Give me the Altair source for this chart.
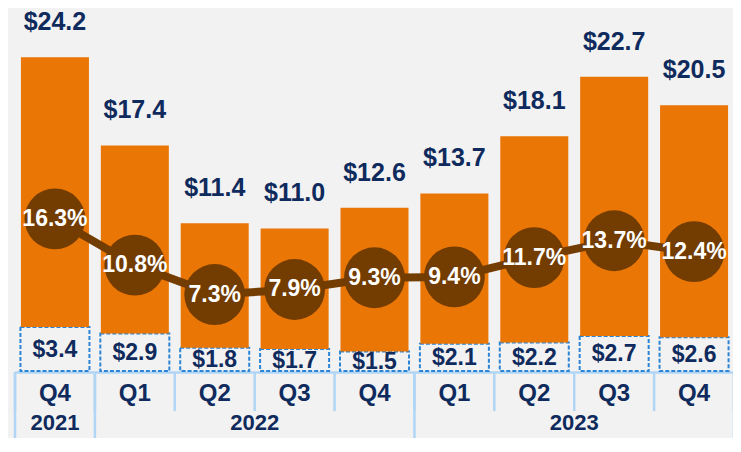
import altair as alt
import pandas as pd

quarters = ["Q4", "Q1", "Q2", "Q3", "Q4", "Q1", "Q2", "Q3", "Q4"]
years = ["2021", "2022", "2022", "2022", "2022", "2023", "2023", "2023", "2023"]
totals = [24.2, 17.4, 11.4, 11.0, 12.6, 13.7, 18.1, 22.7, 20.5]
bottoms = [3.4, 2.9, 1.8, 1.7, 1.5, 2.1, 2.2, 2.7, 2.6]
margins = [16.3, 10.8, 7.3, 7.9, 9.3, 9.4, 11.7, 13.7, 12.4]

ORANGE = "#EA7605"
BROWN = "#733C00"
NAVY = "#0F2A5C"
DASH = "#2B84D4"
GRID = "#B0D5F5"
FONT = "Liberation Sans"

n = len(quarters)
df = pd.DataFrame({
    "idx": list(range(n)),
    "quarter": quarters,
    "year": years,
    "total": totals,
    "bottom": bottoms,
    "margin": margins,
})
df["mid"] = df["bottom"] / 2
df["pct"] = df["margin"] / 100

# table separators derived from the categories
q_seps = pd.DataFrame({"sep": [i - 0.5 for i in range(n + 1)]})
grp = df.groupby("year", sort=False)["idx"].agg(["min", "max"]).reset_index()
grp["center"] = (grp["min"] + grp["max"]) / 2
y_edges = sorted(set(list(grp["min"] - 0.5) + list(grp["max"] + 0.5)))
y_seps = pd.DataFrame({"sep": y_edges})
hline = pd.DataFrame({"a": [-0.5], "b": [n - 0.5]})

xs = alt.Scale(domain=[-0.5, n - 0.5], range=[0, 729], nice=False, zero=False)
ys = alt.Scale(domain=[0, 28], nice=False, zero=False)
ps = alt.Scale(domain=[-1.8, 41.4], nice=False, zero=False)

X = alt.X("idx:Q", scale=xs, axis=None)

base = alt.Chart(df)

q_rules = alt.Chart(q_seps).mark_rule(color=GRID, strokeWidth=2.5).encode(
    x=alt.X("sep:Q", scale=xs, axis=None),
    y=alt.value(364), y2=alt.value(403),
)
y_rules = alt.Chart(y_seps).mark_rule(color=GRID, strokeWidth=2.5).encode(
    x=alt.X("sep:Q", scale=xs, axis=None),
    y=alt.value(364), y2=alt.value(440),
)
h_rule = alt.Chart(hline).mark_rule(color=GRID, strokeWidth=2.5).encode(
    x=alt.X("a:Q", scale=xs, axis=None), x2="b:Q",
    y=alt.value(364.5),
)

boxes = base.mark_bar(width=69, fillOpacity=0, stroke=DASH, strokeWidth=2,
                      strokeDash=[4, 2]).encode(
    x=X,
    y=alt.Y("bottom:Q", scale=ys, axis=None),
    y2=alt.datum(0),
)
bars = base.mark_bar(width=68, color=ORANGE).encode(
    x=X,
    y=alt.Y("total:Q", scale=ys, axis=None),
    y2="bottom:Q",
)
top_labels = base.mark_text(dy=-35, fontSize=25, fontWeight="bold", font=FONT,
                            color=NAVY, baseline="middle").encode(
    x=X,
    y=alt.Y("total:Q", scale=ys, axis=None),
    text=alt.Text("total:Q", format="$.1f"),
)
bot_labels = base.mark_text(dy=1, fontSize=23, fontWeight="bold", font=FONT,
                            color=NAVY, baseline="middle").encode(
    x=X,
    y=alt.Y("mid:Q", scale=ys, axis=None),
    text=alt.Text("bottom:Q", format="$.1f"),
)

line = base.mark_line(color=BROWN, strokeWidth=8).encode(
    x=X, y=alt.Y("margin:Q", scale=ps, axis=None),
)
circles = base.mark_circle(size=3700, color=BROWN, opacity=1).encode(
    x=X, y=alt.Y("margin:Q", scale=ps, axis=None),
)
pct_labels = base.mark_text(fontSize=23, fontWeight="bold", font=FONT,
                            color="white", baseline="middle").encode(
    x=X, y=alt.Y("margin:Q", scale=ps, axis=None),
    text=alt.Text("pct:Q", format=".1%"),
)

q_labels = base.mark_text(fontSize=24, fontWeight="bold", font=FONT,
                          color=NAVY, baseline="middle").encode(
    x=X, y=alt.value(386), text="quarter:N",
)
yr_labels = alt.Chart(grp).mark_text(fontSize=22, fontWeight="bold", font=FONT,
                                     color=NAVY, baseline="middle").encode(
    x=alt.X("center:Q", scale=xs, axis=None), y=alt.value(415), text="year:N",
)

chart = alt.layer(
    q_rules, y_rules, h_rule, boxes, bars, top_labels, bot_labels,
    line, circles, pct_labels, q_labels, yr_labels,
).resolve_scale(y="independent").properties(
    width=723, height=363,
    autosize=alt.AutoSizeParams(type="none"),
    padding={"left": 2, "top": 0, "right": 0, "bottom": 67},
    background="#F2F2F2",
).configure_view(stroke=None)

chart.save("out.html", embed_options={"renderer": "svg", "actions": False})
